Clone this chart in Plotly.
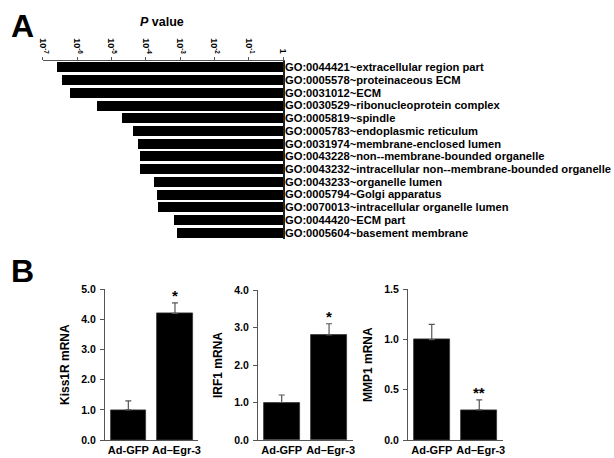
import plotly.graph_objects as go
import numpy as np

# ---------------- Panel A data ----------------
go_terms = [
    "GO:0044421~extracellular region part",
    "GO:0005578~proteinaceous ECM",
    "GO:0031012~ECM",
    "GO:0030529~ribonucleoprotein complex",
    "GO:0005819~spindle",
    "GO:0005783~endoplasmic reticulum",
    "GO:0031974~membrane-enclosed lumen",
    "GO:0043228~non--membrane-bounded organelle",
    "GO:0043232~intracellular non--membrane-bounded organelle",
    "GO:0043233~organelle lumen",
    "GO:0005794~Golgi apparatus",
    "GO:0070013~intracellular organelle lumen",
    "GO:0044420~ECM part",
    "GO:0005604~basement membrane",
]
p_values = [2.6e-7, 3.5e-7, 6.2e-7, 3.7e-6, 2.0e-5, 4.1e-5, 5.9e-5,
            6.6e-5, 6.6e-5, 1.7e-4, 2.1e-4, 2.2e-4, 6.6e-4, 7.9e-4]
p_tick_exps = [-7, -6, -5, -4, -3, -2, -1, 0]
p_tick_text = ["10<sup>-7</sup>", "10<sup>-6</sup>", "10<sup>-5</sup>", "10<sup>-4</sup>",
               "10<sup>-3</sup>", "10<sup>-2</sup>", "10<sup>-1</sup>", "1"]

# ---------------- Panel B data ----------------
groups = ["Ad-GFP", "Ad–Egr-3"]
group_labels = ["Ad-GFP", "\u00a0Ad–Egr-3"]
kiss1r_mean = [1.0, 4.2]
kiss1r_err = [0.3, 0.35]
irf1_mean = [1.0, 2.8]
irf1_err = [0.2, 0.3]
mmp1_mean = [1.0, 0.3]
mmp1_err = [0.15, 0.1]
sig_marks = [["", "*"], ["", "*"], ["", "**"]]

W, H = 614, 458
FONT = "Liberation Sans, Arial, sans-serif"


def px_x(v):
    return v / W


def px_y(v):
    return 1 - v / H


def bold(s):
    return "<b>" + s + "</b>"


fig = go.Figure()

# Panel A bars
log_p = np.log10(np.array(p_values))
fig.add_trace(go.Bar(
    x=log_p, y=go_terms, orientation="h", base=0,
    marker=dict(color="black", line=dict(width=0)),
    width=0.79, xaxis="x", yaxis="y", showlegend=False,
))

# Panel B bars
panels = [
    (kiss1r_mean, kiss1r_err, "2"),
    (irf1_mean, irf1_err, "3"),
    (mmp1_mean, mmp1_err, "4"),
]
for i, (m, e, ax) in enumerate(panels):
    fig.add_trace(go.Bar(
        x=groups, y=m,
        error_y=dict(type="data", array=e, arrayminus=[0] * len(e), symmetric=False,
                     color="#555555", thickness=1.2, width=3),
        marker=dict(color="black", line=dict(color="#333333", width=0.8)),
        width=0.76, xaxis="x" + ax, yaxis="y" + ax, showlegend=False,
    ))
    for j, g in enumerate(groups):
        if sig_marks[i][j]:
            fig.add_annotation(
                x=g, y=m[j] + e[j], xref="x" + ax, yref="y" + ax,
                text=bold(sig_marks[i][j]), showarrow=False,
                xanchor="center", yanchor="bottom", yshift=-3,
                font=dict(size=15, color="black", family=FONT),
            )

axis_line = "#555555"

layout = dict(
    width=W, height=H,
    margin=dict(l=0, r=0, t=0, b=0),
    paper_bgcolor="white", plot_bgcolor="white",
    font=dict(family=FONT, color="black"),
    bargap=0,
    xaxis=dict(
        domain=[px_x(42.7), px_x(283)], range=[-7, 0], side="top",
        anchor="y", showgrid=False, zeroline=False, automargin=False,
        showline=True, linecolor=axis_line, linewidth=1,
        ticks="outside", ticklen=3, tickcolor=axis_line,
        tickmode="array", tickvals=p_tick_exps,
        ticktext=[bold(t) for t in p_tick_text], tickangle=90,
        tickfont=dict(size=9, family=FONT),
    ),
    yaxis=dict(
        domain=[px_y(239.1), px_y(60.9)], type="category",
        categoryorder="array", categoryarray=go_terms,
        range=[len(go_terms) - 0.5, -0.5],
        side="right", anchor="x", showgrid=False, zeroline=False, automargin=False,
        showline=True, linecolor="#222222", linewidth=1.5, ticks="",
        tickmode="array", tickvals=go_terms, ticktext=[bold(t) for t in go_terms],
        ticklabelstandoff=-2,
        tickfont=dict(size=11.2, family=FONT),
    ),
)

b_specs = [
    ("2", 105, 198.3, [0, 5], [0, 1, 2, 3, 4, 5], "Kiss1R mRNA", 289.3),
    ("3", 258, 352.75, [0, 4], [0, 1, 2, 3, 4], "IRF1 mRNA", 290),
    ("4", 408, 503, [0, 1.5], [0, 0.5, 1.0, 1.5], "MMP1 mRNA", 289.3),
]
for ax, x0, x1, yr, tv, title, ytop in b_specs:
    layout["xaxis" + ax] = dict(
        domain=[px_x(x0), px_x(x1)], anchor="y" + ax, range=[-0.5, 1.5],
        showline=True, linecolor=axis_line, linewidth=1, ticks="",
        showgrid=False, zeroline=False, automargin=False,
        tickmode="array", tickvals=groups, ticktext=[bold(g) for g in group_labels],
        tickangle=0, tickfont=dict(size=11, family=FONT),
    )
    layout["yaxis" + ax] = dict(
        domain=[px_y(440), px_y(ytop)], anchor="x" + ax, range=yr,
        tickmode="array", tickvals=tv, ticktext=[bold("%.1f" % v) for v in tv],
        showline=True, linecolor=axis_line, linewidth=1,
        ticks="outside", ticklen=4, tickcolor=axis_line,
        showgrid=False, zeroline=False, automargin=False,
        ticklabelstandoff=2,
        tickfont=dict(size=10.5, family=FONT),
        title=dict(text=bold(title), font=dict(size=12, family=FONT), standoff=9),
    )

fig.update_layout(**layout)

# Panel letters and top axis title
fig.add_annotation(x=px_x(22), y=px_y(25.5), xref="paper", yref="paper",
                   text=bold("A"), showarrow=False, xanchor="center", yanchor="middle",
                   font=dict(size=32, family=FONT, color="black"))
fig.add_annotation(x=px_x(22), y=px_y(270.5), xref="paper", yref="paper",
                   text=bold("B"), showarrow=False, xanchor="center", yanchor="middle",
                   font=dict(size=32, family=FONT, color="black"))
fig.add_annotation(x=px_x(162), y=px_y(22), xref="paper", yref="paper",
                   text="<b><i>P</i> value</b>", showarrow=False,
                   xanchor="center", yanchor="middle",
                   font=dict(size=12.5, family=FONT, color="black"))

fig.write_html("out.html", config={"displayModeBar": False},
               post_script="document.body.style.margin='0';")
